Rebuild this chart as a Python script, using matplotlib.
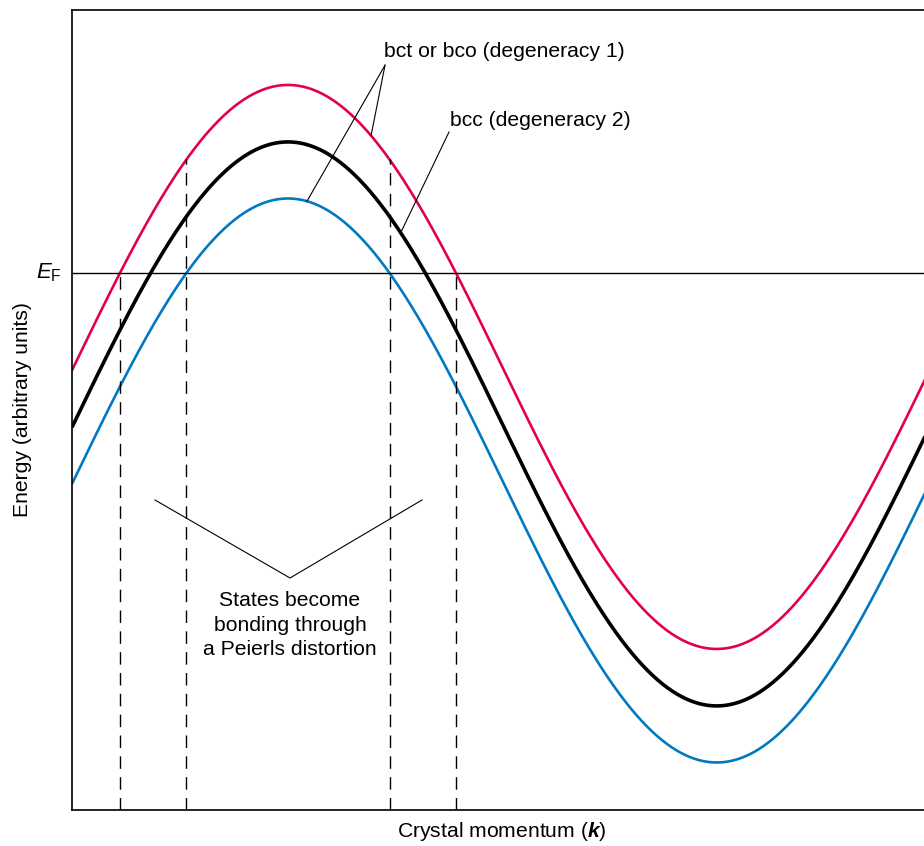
import numpy as np
import matplotlib.pyplot as plt

plt.rcParams['font.family'] = ['Liberation Sans', 'DejaVu Sans']
plt.rcParams['mathtext.fontset'] = 'custom'
plt.rcParams['mathtext.rm'] = 'Liberation Sans'
plt.rcParams['mathtext.it'] = 'Liberation Sans:italic'
plt.rcParams['mathtext.bf'] = 'Liberation Sans:bold'
plt.rcParams['mathtext.bfit'] = 'Liberation Sans:italic:bold'

# band model: E(k) = center + amplitude * cos(2*pi*(k - k_peak) / period)
band_names = ["bct_upper", "bcc", "bct_lower"]
band_centers = [0.5538, 0.4826, 0.4119]
band_colors = ["#e2004f", "#000000", "#0079c1"]
band_widths = [1.9, 2.6, 1.9]
band_amplitude = 0.3525
band_k_peak = 0.2535
band_period = 1.0064

fermi_level = 0.67125
k_max = 1.0094

def band(k, center):
    return center + band_amplitude * np.cos(2 * np.pi * (k - band_k_peak) / band_period)

def fermi_crossings(center):
    dk = np.arccos((fermi_level - center) / band_amplitude) * band_period / (2 * np.pi)
    return band_k_peak - dk, band_k_peak + dk

fig = plt.figure(figsize=(9.24, 8.46), dpi=100)
# right edge of the frame runs just past the figure border
ax = fig.add_axes([72 / 924, 36 / 846, 860 / 924, 800 / 846])

k = np.linspace(0, k_max, 700)
for name, c, col, lw in zip(band_names, band_centers, band_colors, band_widths):
    ax.plot(k, band(k, c), color=col, lw=lw, solid_capstyle='butt')

ax.axhline(fermi_level, color='black', lw=1.0)

# dashed markers where the outer bands cross E_F
k_red = fermi_crossings(band_centers[0])
k_blue = fermi_crossings(band_centers[2])
for kk in k_red:
    ax.plot([kk, kk], [0, fermi_level], color='black', lw=1.0, dashes=(9, 6))
for kk in k_blue:
    ax.plot([kk, kk], [0, band(kk, band_centers[0])], color='black', lw=1.0, dashes=(9, 6))

ax.set_xlim(0, k_max)
ax.set_ylim(0, 1)
ax.set_xticks([])
ax.set_yticks([])
for s in ['left', 'bottom', 'top', 'right']:
    ax.spines[s].set_linewidth(1.2)

fs = 15.2
ax.text(-0.012, fermi_level, r'$E_{\mathrm{F}}$', ha='right', va='center', fontsize=16)

# labels with leader lines
ax.text(0.366, 0.948, "bct or bco (degeneracy 1)", ha='left', va='center', fontsize=fs)
apex = (0.3674, 0.931)
for kk, c in [(0.351, band_centers[0]), (0.2758, band_centers[2])]:
    ax.plot([apex[0], kk], [apex[1], band(kk, c)], color='black', lw=0.8)

ax.text(0.4437, 0.8625, "bcc (degeneracy 2)", ha='left', va='center', fontsize=fs)
ax.plot([0.4425, 0.3858], [0.8475, band(0.3858, band_centers[1])], color='black', lw=0.8)

ax.plot([0.0974, 0.2559, 0.4108], [0.3875, 0.29, 0.3875], color='black', lw=0.8)
ax.text(0.2559, 0.23125, "States become\nbonding through\na Peierls distortion",
        ha='center', va='center', fontsize=fs, linespacing=1.38)

ax.set_xlabel(r'Crystal momentum ($\mathbfit{k}$)', fontsize=fs, labelpad=7)
ax.set_ylabel('Energy (arbitrary units)', fontsize=fs, labelpad=29)

fig.savefig('out.png', dpi=100)
